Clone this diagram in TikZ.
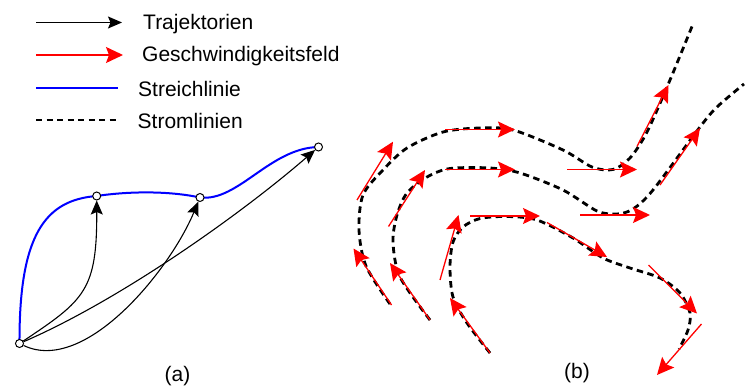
\documentclass[tikz,border=0pt]{standalone}
\usepackage{fontspec}
\setmainfont{Liberation Sans}
\usetikzlibrary{arrows.meta}
\begin{document}
\begin{tikzpicture}[x=1pt,y=-1pt,
  lbl/.style={font=\fontsize{21}{25}\selectfont, inner sep=0pt, anchor=base west},
  captext/.style={font=\fontsize{21}{25}\selectfont, inner sep=0pt, anchor=base},
  traj/.style={line width=1.1pt, -{Stealth[length=14pt,width=12pt,inset=2.5pt]}},
  vel/.style={red, line width=1.3pt, -{Stealth[length=17pt,width=16pt,inset=3pt]}},
  streak/.style={blue, line width=2pt},
  stream/.style={line width=2.8pt, dash pattern=on 6.5pt off 4.5pt},
  pt/.style={circle, draw, fill=white, line width=1pt, minimum size=8pt, inner sep=0pt}
]
\useasboundingbox (0,0) rectangle (755,387);

% ---------------- legend ----------------
\coordinate (l1a) at (36,22.5);  \coordinate (l1b) at (122,22.5);
\coordinate (l2a) at (36,55);    \coordinate (l2b) at (123,55);
\coordinate (l3a) at (36,88.5);  \coordinate (l3b) at (118,88.5);
\coordinate (l4a) at (36,120);   \coordinate (l4b) at (118,120);
\draw[traj] (l1a) -- (l1b);
\draw[vel] (l2a) -- (l2b);
\draw[streak] (l3a) -- (l3b);
\draw[line width=2.5pt, dash pattern=on 6pt off 4.5pt] (l4a) -- (l4b);
\node[lbl] (t1) at (143,30) {Trajektorien};
\node[lbl] (t2) at (142,62) {Geschwindigkeitsfeld};
\node[lbl] (t3) at (138,96.7) {Streichlinie};
\node[lbl] (t4) at (137.5,128.3) {Stromlinien};

% ---------------- (a) ----------------
\coordinate (pA) at (19.5,343.5);
\coordinate (pB) at (96.7,196);
\coordinate (pC) at (200,197.5);
\coordinate (pD) at (318.5,147);
\draw[streak] (pA) .. controls (19,235) and (45,200) .. (pB)
  .. controls (130,191) and (170,191) .. (pC)
  .. controls (238,202) and (270,148) .. (pD);
\node[pt] (A) at (pA) {};
\node[pt] (B) at (pB) {};
\node[pt] (C) at (pC) {};
\node[pt] (D) at (pD) {};
\draw[traj] (A) .. controls (85,300) and (97,290) .. (B);
\draw[traj] (A) .. controls (85,375) and (170,270) .. (C);
\draw[traj] (A) .. controls (120,300) and (240,215) .. (D);
\node[captext] (capa) at (177.5,381) {(a)};

% ---------------- (b) ----------------
\draw[stream] plot[smooth] coordinates {(390,304) (366,266) (359,230) (363,195) (383,170) (407,148) (443,132) (480,128) (513,130) (563,150) (592,167) (613,169.5) (630,158) (647,132) (670,80) (693,24)};
\draw[stream] plot[smooth] coordinates {(430,320) (400,277) (393,242) (397,215) (407,193) (427,177) (450,168.5) (490,168) (520,173) (563,190) (597,211) (617,214) (633,209) (653,190) (700,127) (717,107) (744,84)};
\draw[stream] plot[smooth] coordinates {(490,353) (467,323) (453,297) (450,267) (453,242) (463,227) (480,218.5) (507,216.5) (537,220) (573,238) (603,258) (630,268) (660,278) (680,293) (690,313) (688,330) (679,349)};

\draw[vel] (357,200) -- (393,141.7);
\draw[vel] (445,129.5) -- (515,129.5);
\draw[vel] (567,169.5) -- (637,169.5);
\draw[vel] (637,146.5) -- (668.5,85);
\draw[vel] (391.5,305) -- (353.5,248.5);
\draw[vel] (430,320) -- (390,263);
\draw[vel] (388.5,226.5) -- (425,170);
\draw[vel] (445,169.5) -- (515,169.5);
\draw[vel] (580,215) -- (650,215);
\draw[vel] (660,185) -- (700,128);
\draw[vel] (490,353) -- (450,298);
\draw[vel] (440,280) -- (458.5,215);
\draw[vel] (470,216) -- (540,216);
\draw[vel] (547,222.5) -- (607,257);
\draw[vel] (648.5,265) -- (697,313.5);
\draw[vel] (701.5,324) -- (657,375);
\node[captext] (capb) at (577,378.5) {(b)};
\end{tikzpicture}
\end{document}
